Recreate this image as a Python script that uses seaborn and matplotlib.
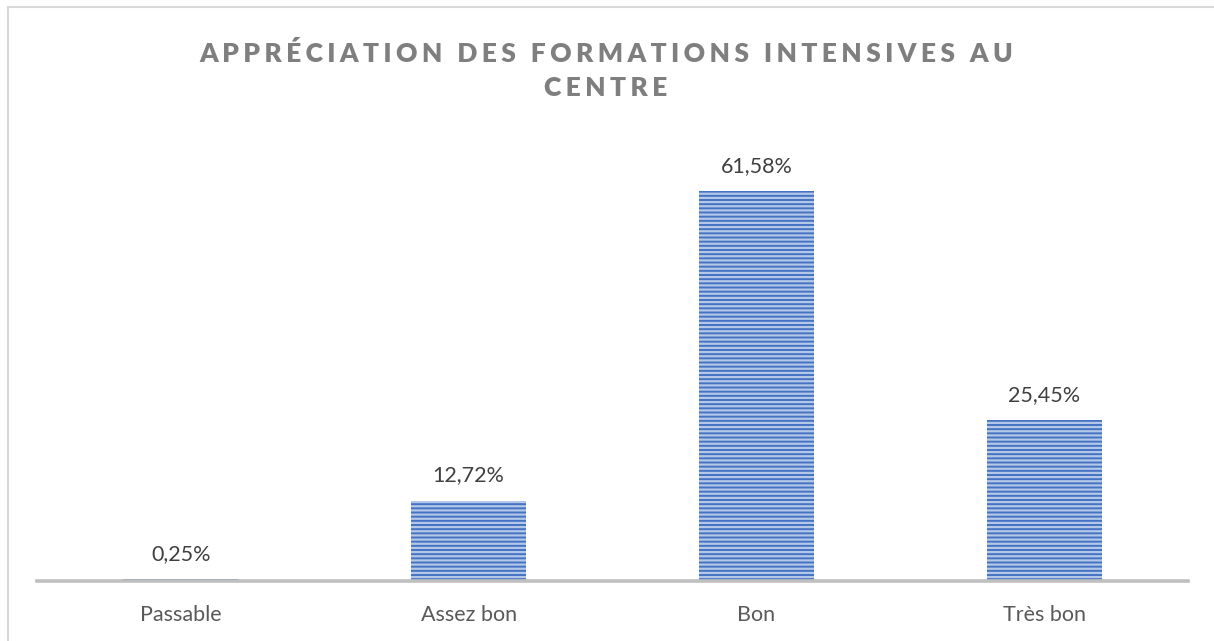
import numpy as np
import pandas as pd
import seaborn as sns
import matplotlib.pyplot as plt
from matplotlib.patches import Rectangle

categories = ['Passable', 'Assez bon', 'Bon', 'Très bon']
values = [0.25, 12.72, 61.58, 25.45]
title = 'APPRÉCIATION DES FORMATIONS INTENSIVES AU\nCENTRE'

df = pd.DataFrame({'cat': categories, 'val': values})

sns.set_style('white')
plt.rcParams['font.family'] = ['Lato', 'DejaVu Sans']
plt.rcParams['hatch.linewidth'] = 1.6

fig = plt.figure(figsize=(12.14, 6.41), dpi=100)
ax = fig.add_axes([37 / 1214, 60 / 641, (1188 - 37) / 1214, 443 / 641])

sns.barplot(data=df, x='cat', y='val', ax=ax, width=0.4, color='#4472C4',
            saturation=1, errorbar=None)
for p in ax.patches:
    p.set_hatch('----')
    p.set_edgecolor('#B4C7E7')
    p.set_linewidth(0)

labels = [f'{v:.2f}'.replace('.', ',') + '%' for v in values]
ax.bar_label(ax.containers[0], labels=labels, padding=11, fontsize=15.5, color='#404040')

ax.set_ylim(0, 70)
ax.set_xlim(-0.5, 3.5)
ax.set_yticks([])
ax.set_xlabel('')
ax.set_ylabel('')
for s in ['top', 'right', 'left']:
    ax.spines[s].set_visible(False)
ax.spines['bottom'].set_color('#BFBFBF')
ax.spines['bottom'].set_linewidth(2.6)
ax.spines['bottom'].set_zorder(5)
ax.tick_params(axis='x', length=0, pad=17, labelsize=15.5, labelcolor='#595959')

# letter-spaced title (no letter-spacing option in matplotlib, so narrow spaces)
gap = '\u2006'
word_gap = gap + ' ' + gap
spaced = '\n'.join(word_gap.join(gap.join(w) for w in line.split(' '))
                   for line in title.split('\n'))
fig.text(606 / 1214, 1 - 70 / 641, spaced, ha='center', va='center', fontsize=19,
         fontweight='heavy', color='#7F7F7F', linespacing=1.5)

fig.add_artist(Rectangle((8 / 1214, -0.1), 1.2, 1.1 - 6.5 / 641, transform=fig.transFigure,
                         fill=False, edgecolor='#D9D9D9', linewidth=1.5))

fig.savefig('out.png', dpi=100)
